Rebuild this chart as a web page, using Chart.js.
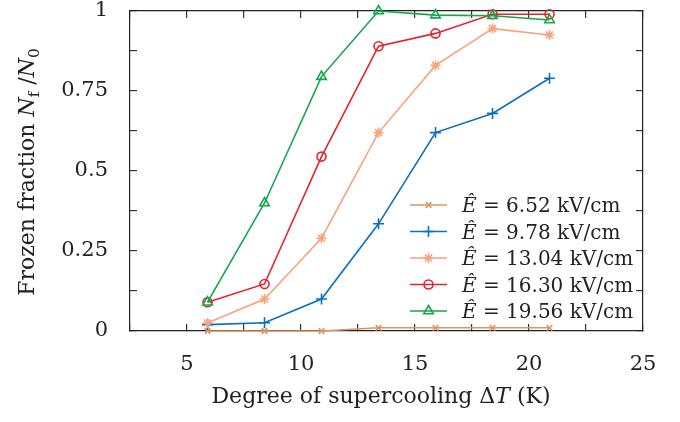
<!DOCTYPE html>
<html>
<head>
<meta charset="utf-8">
<script src="https://cdn.jsdelivr.net/npm/chart.js@4.4.1/dist/chart.umd.min.js"></script>
<style>
  html, body { margin: 0; padding: 0; background: #fff; }
  #wrap { width: 680px; height: 422px; }
</style>
</head>
<body>
<div id="wrap"><canvas id="frozen_chart" width="680" height="422"></canvas></div>
<script>
// degree of supercooling (K)
var supercooling = [5.9, 8.4, 10.9, 13.4, 15.9, 18.4, 20.9];
var fieldLabels = ['6.52', '9.78', '13.04', '16.30', '19.56'];
var frac652  = [0, 0, 0, 0.01, 0.01, 0.01, 0.01];
var frac978  = [0.02, 0.026, 0.10, 0.335, 0.62, 0.68, 0.79];
var frac1304 = [0.025, 0.10, 0.29, 0.62, 0.83, 0.945, 0.925];
var frac1630 = [0.09, 0.147, 0.545, 0.89, 0.93, 0.99, 0.99];
var frac1956 = [0.09, 0.40, 0.795, 1.0, 0.987, 0.985, 0.972];
var xTickLabels = [5, 10, 15, 20, 25];
var yTickLabels = [0, 0.25, 0.5, 0.75, 1];

var serif = "'DejaVu Serif', 'Liberation Serif', serif";
var colors = ['#dc9568', '#0a6fbf', '#f6a37e', '#e8222c', '#14a64c'];
var markers = ['crossRot', 'cross', 'star', 'circle', 'triangle'];
var radii = [4, 5.5, 5, 4.5, 5.5];
var allSeries = [frac652, frac978, frac1304, frac1630, frac1956];

function toPoints(vals) {
  return supercooling.map(function (x, i) { return { x: x, y: vals[i] }; });
}

var datasets = allSeries.map(function (vals, i) {
  return {
    label: fieldLabels[i],
    data: toPoints(vals),
    showLine: true,
    clip: false,
    borderColor: colors[i],
    backgroundColor: 'rgba(0,0,0,0)',
    borderWidth: 1.6,
    pointStyle: markers[i],
    pointRadius: radii[i],
    pointBorderWidth: 1.6,
    pointBorderColor: colors[i],
    pointBackgroundColor: 'rgba(0,0,0,0)',
    order: allSeries.length - i
  };
});

// text with italic / subscript pieces
function richWidth(ctx, parts, size) {
  var w = 0;
  parts.forEach(function (p) {
    var s = p.sub ? size * 0.7 : size;
    ctx.font = (p.italic ? 'italic ' : '') + s + 'px ' + serif;
    w += ctx.measureText(p.t).width;
  });
  return w;
}
function drawRich(ctx, parts, x, y, size) {
  parts.forEach(function (p) {
    var s = p.sub ? size * 0.7 : size;
    ctx.font = (p.italic ? 'italic ' : '') + s + 'px ' + serif;
    ctx.fillText(p.t, x, p.sub ? y + size * 0.22 : y);
    x += ctx.measureText(p.t).width;
  });
}

var decorations = {
  id: 'decorations',
  afterDraw: function (chart) {
    var ctx = chart.ctx;
    ctx.save();
    ctx.fillStyle = '#222';
    ctx.textBaseline = 'alphabetic';
    ctx.textAlign = 'left';

    // x title
    var xt = [{ t: 'Degree of supercooling \u0394' }, { t: 'T', italic: true }, { t: ' (K)' }];
    var w = richWidth(ctx, xt, 22);
    drawRich(ctx, xt, 381 - w / 2, 403, 22);

    // y title
    var yt = [{ t: 'Frozen fraction ' }, { t: 'N', italic: true }, { t: 'f', sub: true },
              { t: ' /' }, { t: 'N', italic: true }, { t: '0', sub: true }];
    ctx.save();
    ctx.translate(34, 172);
    ctx.rotate(-Math.PI / 2);
    w = richWidth(ctx, yt, 22);
    drawRich(ctx, yt, -w / 2, 0, 22);
    ctx.restore();

    // legend
    var rowY = 205;
    chart.data.datasets.forEach(function (ds, i) {
      var y = rowY + i * 26.5;
      ctx.strokeStyle = ds.borderColor;
      ctx.lineWidth = ds.borderWidth;
      ctx.beginPath();
      ctx.moveTo(410, y);
      ctx.lineTo(447, y);
      ctx.stroke();
      ctx.fillStyle = 'rgba(0,0,0,0)';
      ctx.lineWidth = ds.pointBorderWidth;
      Chart.helpers.drawPoint(ctx, { pointStyle: ds.pointStyle, radius: ds.pointRadius, rotation: 0, borderWidth: ds.pointBorderWidth }, 428.5, y);
      ctx.fillStyle = '#222';
      drawRich(ctx, [{ t: '\u00ca', italic: true }, { t: ' = ' + ds.label + ' kV/cm' }], 462, y + 7, 20);
    });
    ctx.restore();
  }
};

function frameAxis(pos, min, max, step, size, showTicks, labels) {
  return {
    type: 'linear',
    position: pos,
    min: min,
    max: max,
    afterFit: function (scale) {
      if (pos === 'top' || pos === 'bottom') scale.height = size; else scale.width = size;
      scale.paddingTop = 0;
      scale.paddingBottom = 0;
      scale.paddingLeft = 0;
      scale.paddingRight = 0;
    },
    afterBuildTicks: function (scale) {
      var t = [];
      for (var v = min; v <= max + 1e-9; v += step) t.push({ value: v });
      scale.ticks = t;
    },
    ticks: {
      display: showTicks,
      autoSkip: false,
      maxRotation: 0,
      padding: pos === 'bottom' ? 28 : 29,
      color: '#222',
      font: { family: serif, size: 21 },
      callback: function (v) {
        return labels.indexOf(v) >= 0 ? String(v) : '';
      }
    },
    grid: { drawOnChartArea: false, tickLength: -7, color: '#333', lineWidth: 1.2 },
    border: { display: true, color: '#222', width: 1.2 }
  };
}

var ctx = document.getElementById('frozen_chart').getContext('2d');
var frozenChart = new Chart(ctx, {
  type: 'scatter',
  data: { datasets: datasets },
  options: {
    responsive: false,
    animation: false,
    layout: { padding: 0 },
    plugins: { legend: { display: false }, tooltip: { enabled: false } },
    scales: {
      x: frameAxis('bottom', 2.5, 25, 2.5, 91, true, xTickLabels),
      xTop: frameAxis('top', 2.5, 25, 2.5, 11, false, []),
      y: frameAxis('left', 0, 1, 0.125, 130, true, yTickLabels),
      yRight: frameAxis('right', 0, 1, 0.125, 37, false, [])
    }
  },
  plugins: [decorations]
});
</script>
</body>
</html>
